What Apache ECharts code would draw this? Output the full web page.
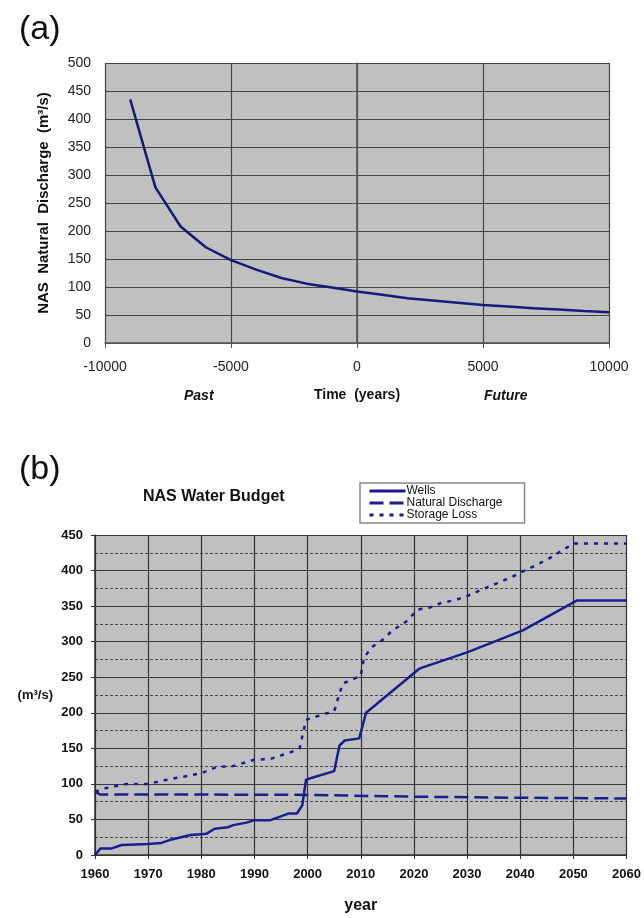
<!DOCTYPE html>
<html>
<head>
<meta charset="utf-8">
<script src="https://cdn.jsdelivr.net/npm/echarts@6/dist/echarts.min.js"></script>
<style>
  html, body { margin: 0; background: #fff; }
  #chart { width: 644px; height: 918px; }
</style>
</head>
<body>
<div id="chart"></div>
<script>
// (a) natural discharge over time
const dischargeYears = [-9000, -8000, -7000, -6000, -5000, -4000, -3000, -2000, -1000, 0,
  1000, 2000, 3000, 4000, 5000, 6000, 7000, 8000, 9000, 10000];
const dischargeValues = [435, 278, 208, 171, 148, 131, 116, 106, 99, 92,
  86, 80, 76, 72, 68, 65, 62, 60, 57, 55];

// (b) water budget
const wellsYears = [1960, 1961, 1963, 1965, 1970, 1972.5, 1974, 1978, 1981, 1982.5, 1985, 1986, 1988.5,
  1990, 1993, 1996.5, 1998, 1999, 1999.7, 2001, 2005, 2006, 2007, 2009.7, 2011, 2021, 2030, 2040.5,
  2050.7, 2060];
const wellsValues = [0, 9, 9, 14, 15.5, 17, 21, 28, 30, 37, 39, 42, 45.5,
  49, 49, 58.5, 58.5, 70, 106, 109, 118, 154, 161, 164, 200, 262, 285, 316,
  358, 358];
const naturalYears = [1960, 1961, 1980, 2000, 2020, 2040, 2060];
const naturalValues = [89, 85, 85, 84.5, 82, 80.5, 79.5];
const storageYears = [1960, 1962, 1966, 1970, 1973, 1980, 1983, 1986, 1990, 1993, 1997, 1998.5, 1999.7,
  2003, 2005, 2006, 2006.6, 2010, 2010.6, 2012, 2014, 2016, 2018.5, 2020.7, 2023, 2025, 2028, 2030.6,
  2033, 2035.6, 2038.4, 2040, 2045, 2050, 2060];
const storageValues = [89, 94, 100, 100, 105, 115, 124, 125, 134, 135, 145, 150, 190,
  198, 202, 227, 241, 252, 277, 292, 302, 316, 328, 345, 348, 354, 359, 366,
  374, 382, 391, 397, 415, 438, 438];

const FONT = "Arial, 'Liberation Sans', sans-serif";
const LINE = "#1c1c8e";
const PLOT_BG = "#c0c0c0";

const pairs = (xs, ys) => xs.map((x, i) => [x, ys[i]]);
const plain = (v) => String(v);

const chart = echarts.init(document.getElementById("chart"));

chart.setOption({
  animation: false,
  backgroundColor: "#fff",
  textStyle: { fontFamily: FONT },
  title: [
    { text: "(a)", left: 14, top: 8, textStyle: { fontSize: 34, fontWeight: "normal", color: "#111", fontFamily: FONT } },
    { text: "(b)", left: 14, top: 448, textStyle: { fontSize: 34, fontWeight: "normal", color: "#111", fontFamily: FONT } },
    { text: "NAS Water Budget", left: 138, top: 484, textStyle: { fontSize: 16, fontWeight: "bold", color: "#111", fontFamily: FONT } },
  ],
  legend: {
    data: ["Wells", "Natural Discharge", "Storage Loss"],
    orient: "vertical",
    left: 360, top: 483,
    padding: [2, 22, 2, 8],
    itemGap: 0,
    itemWidth: 36, itemHeight: 10,
    backgroundColor: "#fff",
    borderColor: "#888", borderWidth: 1.5,
    itemStyle: { opacity: 0 },
    lineStyle: { width: 3 },
    textStyle: { fontSize: 12, color: "#111", padding: [0, 0, 0, -4] },
  },
  graphic: [
    { type: "text", left: 184, top: 389, style: { text: "Past", font: "italic bold 14px " + FONT, fill: "#111" } },
    { type: "text", left: 484, top: 389, style: { text: "Future", font: "italic bold 14px " + FONT, fill: "#111" } },
  ],
  grid: [
    { left: 105, right: 35, top: 63, height: 280, backgroundColor: PLOT_BG, show: true, borderWidth: 0 },
    { left: 95, right: 16, top: 535, height: 320, backgroundColor: PLOT_BG, show: true, borderWidth: 0 },
  ],
  xAxis: [
    {
      type: "value", gridIndex: 0, min: -10000, max: 10000, interval: 5000,
      name: "Time  (years)", nameLocation: "middle", nameGap: 45,
      nameTextStyle: { fontSize: 14, fontWeight: "bold", color: "#111" },
      axisLine: { lineStyle: { color: "#555", width: 1.5 } },
      axisTick: { show: true, length: 5, lineStyle: { color: "#555" } },
      axisLabel: { fontSize: 14, color: "#222", margin: 17, formatter: plain },
      splitLine: { show: true, lineStyle: { color: "#444", width: 1.2 } },
    },
    {
      type: "value", gridIndex: 1, min: 1960, max: 2060, interval: 10,
      name: "year", nameLocation: "middle", nameGap: 43,
      nameTextStyle: { fontSize: 16, fontWeight: "bold", color: "#111" },
      axisLine: { lineStyle: { color: "#333", width: 1.5 } },
      axisTick: { show: true, length: 4, lineStyle: { color: "#333" } },
      axisLabel: { fontSize: 13, fontWeight: "bold", color: "#111", margin: 13, formatter: plain },
      splitLine: { show: true, lineStyle: { color: "#333", width: 1.2 } },
    },
  ],
  yAxis: [
    {
      type: "value", gridIndex: 0, min: 0, max: 500, interval: 50,
      name: "NAS  Natural  Discharge  (m³/s)", nameLocation: "middle", nameGap: 54,
      nameTextStyle: { fontSize: 15, fontWeight: "bold", color: "#111" },
      axisLine: { show: true, lineStyle: { color: "#555", width: 1.5 } },
      axisTick: { show: true, length: 5, lineStyle: { color: "#555" } },
      axisLabel: { fontSize: 14, color: "#222", margin: 14, formatter: plain },
      splitLine: { show: true, lineStyle: { color: "#444", width: 1.2 } },
    },
    {
      type: "value", gridIndex: 1, min: 0, max: 450, interval: 50,
      name: "(m³/s)", nameLocation: "middle", nameRotate: 0, nameGap: 42,
      nameTextStyle: { fontSize: 13, fontWeight: "bold", color: "#111", align: "right" },
      axisLine: { show: true, lineStyle: { color: "#333", width: 1.5 } },
      axisTick: { show: true, length: 4, lineStyle: { color: "#333" } },
      axisLabel: { fontSize: 13, fontWeight: "bold", color: "#111", margin: 12, formatter: plain },
      splitLine: { show: true, lineStyle: { color: "#3a3a3a", width: 1.2 } },
      minorTick: { show: false, splitNumber: 2 },
      minorSplitLine: { show: true, lineStyle: { color: "#4a4a4a", width: 1, type: [3, 2] } },
    },
  ],
  series: [
    {
      name: "NAS Natural Discharge", type: "line", xAxisIndex: 0, yAxisIndex: 0,
      data: pairs(dischargeYears, dischargeValues),
      symbol: "none", smooth: false,
      lineStyle: { color: "#181878", width: 2.5 },
    },
    {
      name: "Wells", type: "line", xAxisIndex: 1, yAxisIndex: 1,
      data: pairs(wellsYears, wellsValues),
      symbol: "none", itemStyle: { color: LINE },
      lineStyle: { color: LINE, width: 2.5 },
    },
    {
      name: "Natural Discharge", type: "line", xAxisIndex: 1, yAxisIndex: 1,
      data: pairs(naturalYears, naturalValues),
      symbol: "none", itemStyle: { color: LINE },
      lineStyle: { color: LINE, width: 2.5, type: [14, 6] },
    },
    {
      name: "Storage Loss", type: "line", xAxisIndex: 1, yAxisIndex: 1,
      data: pairs(storageYears, storageValues),
      symbol: "none", itemStyle: { color: LINE },
      lineStyle: { color: LINE, width: 2.5, type: [4, 6] },
    },
  ],
});
</script>
</body>
</html>
